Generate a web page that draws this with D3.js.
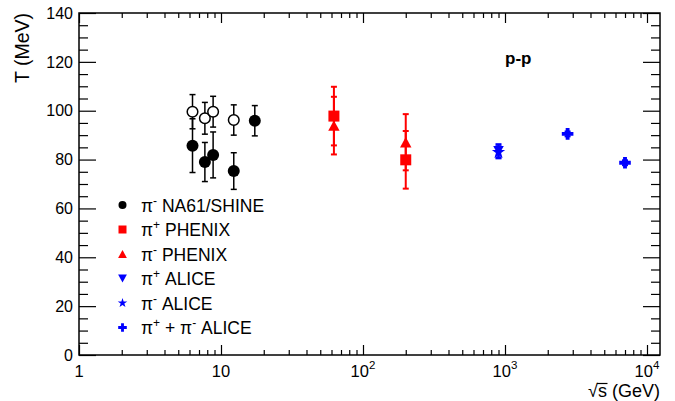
<!DOCTYPE html>
<html><head><meta charset="utf-8">
<script src="https://cdn.jsdelivr.net/npm/d3@7"></script>
<style>
body{margin:0;background:#fff}
svg{display:block}
text{font-family:"Liberation Sans",Arial,Helvetica,sans-serif}
</style>
</head><body>
<svg id="c" width="675" height="401"></svg>
<script>
// ---------- data ----------
const xMajor = [1, 10, 100, 1000, 10000];
const xTickBase = ["1", "10", "10", "10", "10"];
const xTickExp = ["", "", "2", "3", "4"];
const yTicks = [0, 20, 40, 60, 80, 100, 120, 140];

// pi- NA61/SHINE (filled circles)
const na61Sqrt = [6.3, 7.7, 8.8, 12.3, 17.3];
const na61T = [85.7, 79.0, 81.9, 75.3, 95.9];
const na61Err = [11.0, 8.0, 9.4, 7.5, 6.2];
// NA61/SHINE open circles (no legend entry)
const na61OpenSqrt = [6.3, 7.7, 8.8, 12.3];
const na61OpenT = [99.6, 96.9, 99.6, 96.2];
const na61OpenErr = [7.0, 6.5, 6.3, 6.2];
// pi+ PHENIX (squares)
const phenixPlusSqrt = [62.4, 200];
const phenixPlusT = [97.8, 79.9];
const phenixPlusErr = [12.0, 11.8];
// pi- PHENIX (triangles)
const phenixMinusSqrt = [62.4, 200];
const phenixMinusT = [93.9, 87.1];
const phenixMinusErr = [11.8, 11.5];
// pi+ ALICE (down triangles)
const alicePlusSqrt = [900];
const alicePlusT = [83.6];
const alicePlusErr = [2.7];
// pi- ALICE (stars)
const aliceMinusSqrt = [900];
const aliceMinusT = [83.0];
const aliceMinusErr = [2.5];
// pi+ + pi- ALICE (crosses)
const aliceSumSqrt = [2760, 7000];
const aliceSumT = [90.5, 78.7];
const aliceSumErr = [1.0, 1.0];

const legendSign = ["-", "+", "-", "+", "-", "+"];
const legendRest = ["NA61/SHINE", "PHENIX", "PHENIX", "ALICE", "ALICE", "ALICE"];

// ---------- layout ----------
const L = 79, R = 660, T = 13, B = 355;
const svg = d3.select("#c");
const x = d3.scaleLog().domain([1, Math.pow(10, (R - L) / 142)]).range([L, R]);
const y = d3.scaleLinear().domain([0, 140]).range([B, T]);

const xMinor = [];
for (let d = 1; d <= 1000; d *= 10) for (let k = 2; k <= 9; k++) xMinor.push(d * k);
const yMinor = d3.range(0, 141, 5).filter(v => v % 20 !== 0);

// ticks via d3 axes (inward)
function axisG(axis, tx, ty) {
  const g = svg.append("g").attr("transform", `translate(${tx},${ty})`).call(axis);
  g.select(".domain").remove();
  g.selectAll("text").remove();
  g.selectAll("line").attr("stroke", "#000").attr("stroke-width", 1.2);
  return g;
}
axisG(d3.axisBottom(x).tickValues(xMajor).tickSize(-10).tickFormat(""), 0, B);
axisG(d3.axisBottom(x).tickValues(xMinor).tickSize(-5).tickFormat(""), 0, B);
axisG(d3.axisTop(x).tickValues(xMajor).tickSize(-10).tickFormat(""), 0, T);
axisG(d3.axisTop(x).tickValues(xMinor).tickSize(-5).tickFormat(""), 0, T);
axisG(d3.axisLeft(y).tickValues(yTicks).tickSize(-17).tickFormat(""), L, 0);
axisG(d3.axisLeft(y).tickValues(yMinor).tickSize(-9).tickFormat(""), L, 0);
axisG(d3.axisRight(y).tickValues(yTicks).tickSize(-17).tickFormat(""), R, 0);
axisG(d3.axisRight(y).tickValues(yMinor).tickSize(-9).tickFormat(""), R, 0);

// frame
svg.append("rect").attr("x", L).attr("y", T).attr("width", R - L).attr("height", B - T)
  .attr("fill", "none").attr("stroke", "#000").attr("stroke-width", 1.5);

// y tick labels
svg.append("g").selectAll("text").data(yTicks).join("text")
  .attr("x", L - 6).attr("y", d => y(d)).attr("dy", "0.36em")
  .attr("text-anchor", "end").attr("font-size", 16).text(d => d);

// x tick labels (whole label centred on its tick)
xMajor.forEach((v, i) => {
  const t = svg.append("text").attr("y", 377).attr("font-size", 16.5);
  t.append("tspan").text(xTickBase[i]);
  if (xTickExp[i]) t.append("tspan").attr("dy", -8).attr("font-size", 11.5).text(xTickExp[i]);
  const w = t.node().getComputedTextLength();
  t.attr("x", x(v) - w / 2);
});

// axis titles
svg.append("text").attr("transform", `translate(29,${T}) rotate(-90)`)
  .attr("text-anchor", "end").attr("font-size", 19.5).text("T (MeV)");
const xt = svg.append("text").attr("x", R).attr("y", 397).attr("text-anchor", "end").attr("font-size", 18);
xt.append("tspan").text("√");
xt.append("tspan").text("s (GeV)");
{
  const bb = xt.node().getBBox();
  const sq = xt.node().getSubStringLength(0, 1);
  const sw = xt.node().getSubStringLength(1, 1);
  svg.append("line").attr("x1", bb.x + sq - 1).attr("x2", bb.x + sq + sw + 0.5)
    .attr("y1", 383.5).attr("y2", 383.5).attr("stroke", "#000").attr("stroke-width", 1.2);
}

// p-p label
svg.append("text").attr("x", 505).attr("y", 64).attr("font-size", 17)
  .attr("font-weight", "bold").text("p-p");

// ---------- markers ----------
function tri(s) { return `M0,${-s}L${s * 1.1},${s}L${-s * 1.1},${s}Z`; }
function triDown(s) { return `M0,${s}L${s * 1.1},${-s}L${-s * 1.1},${-s}Z`; }
const shapes = {
  circle: s => d3.symbol(d3.symbolCircle, Math.PI * s * s)(),
  square: s => `M${-s},${-s}H${s}V${s}H${-s}Z`,
  tri: s => tri(s),
  triDown: s => triDown(s),
  star: s => d3.symbol(d3.symbolStar, s * s * 2.2)(),
  cross: s => d3.symbol(d3.symbolCross, Math.pow(2 * s / 3, 2) * 5)()
};

function drawSeries(xs, ts, es, color, shape, size, opts = {}) {
  const g = svg.append("g");
  const data = xs.map((v, i) => ({ x: v, t: ts[i], e: es[i] }));
  const lw = opts.lw || 1.6, cap = opts.cap || 3;
  g.selectAll("line.bar").data(data).join("line")
    .attr("x1", d => x(d.x)).attr("x2", d => x(d.x))
    .attr("y1", d => y(d.t - d.e)).attr("y2", d => y(d.t + d.e))
    .attr("stroke", color).attr("stroke-width", lw);
  ["lo", "hi"].forEach(k => {
    g.selectAll("line.c" + k).data(data).join("line")
      .attr("x1", d => x(d.x) - cap).attr("x2", d => x(d.x) + cap)
      .attr("y1", d => y(k === "lo" ? d.t - d.e : d.t + d.e))
      .attr("y2", d => y(k === "lo" ? d.t - d.e : d.t + d.e))
      .attr("stroke", color).attr("stroke-width", lw);
  });
  g.selectAll("path").data(data).join("path")
    .attr("transform", d => `translate(${x(d.x)},${y(d.t)})`)
    .attr("d", shapes[shape](size))
    .attr("fill", opts.open ? "#fff" : color)
    .attr("stroke", opts.open ? color : "none")
    .attr("stroke-width", 1.5);
}

drawSeries(na61OpenSqrt, na61OpenT, na61OpenErr, "#000", "circle", 5.3, { open: true, lw: 1.5, cap: 3 });
drawSeries(na61Sqrt, na61T, na61Err, "#000", "circle", 6, { lw: 1.5, cap: 3 });
drawSeries(phenixPlusSqrt, phenixPlusT, phenixPlusErr, "#ff0000", "square", 5.5, { lw: 2, cap: 3 });
drawSeries(phenixMinusSqrt, phenixMinusT, phenixMinusErr, "#ff0000", "tri", 5.2, { lw: 2, cap: 3 });
drawSeries(alicePlusSqrt, alicePlusT, alicePlusErr, "#0000ff", "triDown", 4.8, { lw: 2, cap: 3 });
drawSeries(aliceMinusSqrt, aliceMinusT, aliceMinusErr, "#0000ff", "star", 5, { lw: 2, cap: 3 });
drawSeries(aliceSumSqrt, aliceSumT, aliceSumErr, "#0000ff", "cross", 5.8, { lw: 2, cap: 3 });

// ---------- legend ----------
const legShapes = ["circle", "square", "tri", "triDown", "star", "cross"];
const legSizes = [4, 4, 4, 4, 3.6, 4.3];
const legColors = ["#000", "#ff0000", "#ff0000", "#0000ff", "#0000ff", "#0000ff"];
const legY = [205, 229.5, 254, 278.5, 303, 327.5];
legendRest.forEach((txt, i) => {
  svg.append("path").attr("transform", `translate(122.5,${legY[i]})`)
    .attr("d", shapes[legShapes[i]](legSizes[i])).attr("fill", legColors[i]);
  const t = svg.append("text").attr("x", 141).attr("y", legY[i] + 6.5).attr("font-size", 17.5);
  t.append("tspan").text("π");
  t.append("tspan").attr("dy", -7).attr("font-size", 12).text(legendSign[i]);
  if (i === 5) {
    t.append("tspan").attr("dy", 7).text(" + π");
    t.append("tspan").attr("dy", -7).attr("font-size", 12).text("-");
  }
  t.append("tspan").attr("dy", 7).text(" " + txt);
});
</script>
</body></html>
